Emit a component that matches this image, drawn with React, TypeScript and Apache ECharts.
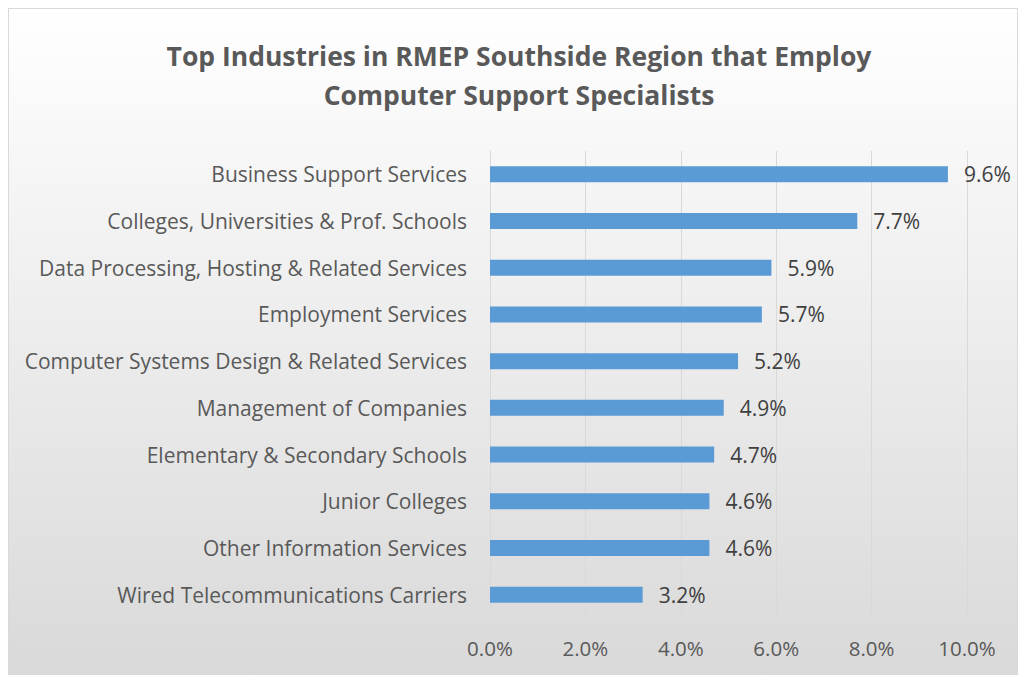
import React, { useEffect, useRef } from "react";
import * as echarts from "echarts";

const titleLines = [
  "Top Industries in RMEP Southside Region that Employ",
  "Computer Support Specialists",
];

const categories = [
  "Business Support Services",
  "Colleges, Universities & Prof. Schools",
  "Data Processing, Hosting & Related Services",
  "Employment Services",
  "Computer Systems Design & Related Services",
  "Management of Companies",
  "Elementary & Secondary Schools",
  "Junior Colleges",
  "Other Information Services",
  "Wired Telecommunications Carriers",
];

const shares = [9.6, 7.7, 5.9, 5.7, 5.2, 4.9, 4.7, 4.6, 4.6, 3.2];

const FONT = "'Open Sans', Lato, sans-serif";

export default function App() {
  const ref = useRef<HTMLDivElement>(null);

  useEffect(() => {
    document.body.style.margin = "0";
    if (!ref.current) return;
    const chart = echarts.init(ref.current, null, { renderer: "svg" });
    chart.setOption({
      animation: false,
      textStyle: { fontFamily: FONT },
      graphic: [
        {
          type: "text",
          x: 510,
          y: 27,
          style: {
            text: titleLines.join("\n"),
            textAlign: "center",
            font: `bold 26.5px ${FONT}`,
            lineHeight: 39,
            fill: "#595959",
          },
        },
      ],
      grid: { left: 481, right: 50, top: 142, bottom: 56, containLabel: false },
      xAxis: {
        type: "value",
        min: 0,
        max: 10,
        interval: 2,
        axisLine: { show: false },
        axisTick: { show: false },
        splitLine: { show: true, lineStyle: { color: "#d9d9d9", width: 1 } },
        axisLabel: {
          formatter: (v: number) => v.toFixed(1) + "%",
          fontSize: 20.5,
          color: "#595959",
          margin: 19,
          fontFamily: FONT,
        },
      },
      yAxis: {
        type: "category",
        data: categories,
        inverse: true,
        axisLine: { show: true, lineStyle: { color: "#d9d9d9" } },
        axisTick: { show: false },
        axisLabel: {
          fontSize: 21,
          color: "#595959",
          margin: 23,
          fontFamily: FONT,
        },
      },
      series: [
        {
          type: "bar",
          data: shares,
          barWidth: 16,
          itemStyle: { color: "#5b9bd5" },
          label: {
            show: true,
            position: "right",
            distance: 16,
            formatter: (p: any) => p.value.toFixed(1) + "%",
            fontSize: 21,
            color: "#404040",
            fontFamily: FONT,
          },
        },
      ],
    });
    return () => chart.dispose();
  }, []);

  return (
    <div
      style={{
        position: "absolute",
        left: 8,
        top: 8,
        width: 1010,
        height: 667,
        boxSizing: "border-box",
        border: "1px solid #d9d9d9",
        background: "linear-gradient(to bottom, #ffffff 0%, #d9d9d9 100%)",
      }}
    >
      <div ref={ref} style={{ width: 1008, height: 665 }} />
    </div>
  );
}
